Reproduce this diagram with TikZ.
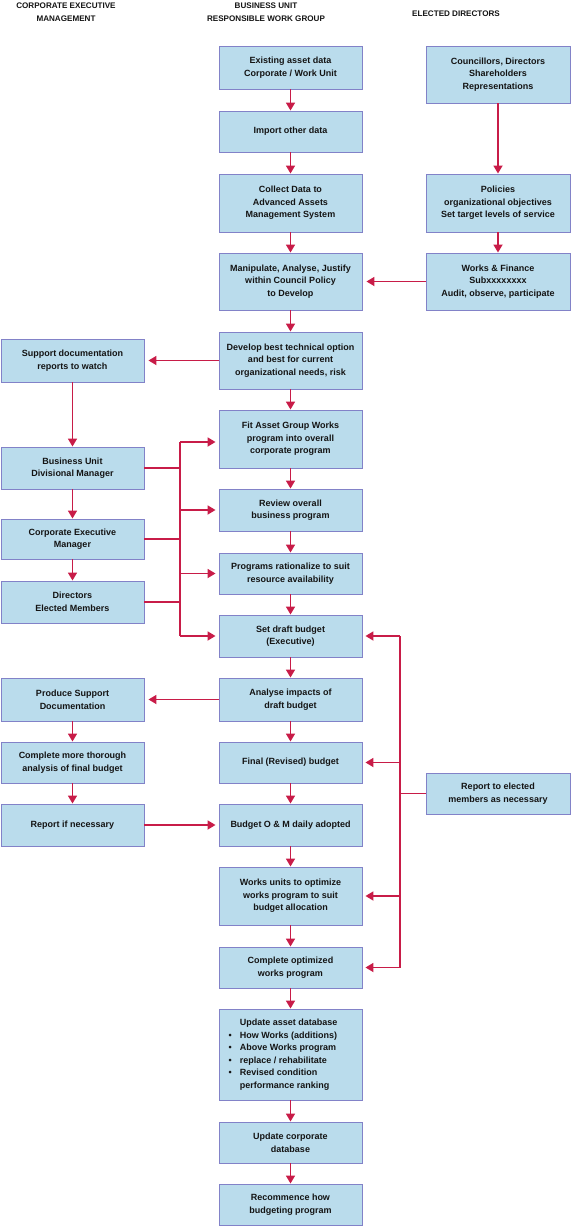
\documentclass[tikz,border=0pt]{standalone}
\usepackage{fontspec}
\setmainfont{Liberation Sans}
\usetikzlibrary{arrows.meta}
\definecolor{boxfill}{RGB}{186,220,236}
\definecolor{bordercol}{RGB}{130,130,200}
\definecolor{arrcol}{RGB}{200,28,72}
\definecolor{txtcol}{RGB}{20,20,20}
\tikzset{
  box/.style={draw=bordercol, line width=0.9pt, fill=boxfill, minimum width=143pt,
    align=center, inner sep=2pt, text=txtcol, font=\fontsize{9}{12.6}\selectfont\bfseries},
  mh/.style={minimum height=#1pt},
  hdr/.style={align=center, text=txtcol, inner sep=0pt, font=\fontsize{8.1}{13}\selectfont\bfseries},
  arr/.style={draw=arrcol, line width=1.7pt, -{Triangle[length=8pt,width=9pt]}},
  ln/.style={draw=arrcol, line width=1.7pt},
}
\begin{document}
\begin{tikzpicture}[x=1pt,y=-1pt]
\useasboundingbox (0,0) rectangle (571,1227);
% headers
\node[hdr] (h1) at (66,12.5) {CORPORATE EXECUTIVE\\MANAGEMENT};
\node[hdr] (h2) at (266,12.5) {BUSINESS UNIT\\RESPONSIBLE WORK GROUP};
\node[hdr] (h3) at (456,14) {ELECTED DIRECTORS};
% centre column
\node[box,mh=43] (c1) at (290.5,67.5) {Existing asset data\\Corporate / Work Unit};
\node[box,mh=41] (c2) at (290.5,131.5) {Import other data};
\node[box,mh=58] (c3) at (290.5,203) {Collect Data to\\Advanced Assets\\Management System};
\node[box,mh=57] (c4) at (290.5,281.5) {Manipulate, Analyse, Justify\\within Council Policy\\to Develop};
\node[box,mh=57] (c5) at (290.5,360.5) {Develop best technical option\\and best for current\\organizational needs, risk};
\node[box,mh=58] (c6) at (290.5,439) {Fit Asset Group Works\\program into overall\\corporate program};
\node[box,mh=42] (c7) at (290.5,510) {Review overall\\business program};
\node[box,mh=41] (c8) at (290.5,573.5) {Programs rationalize to suit\\resource availability};
\node[box,mh=42] (c9) at (290.5,636) {Set draft budget\\(Executive)};
\node[box,mh=43] (c10) at (290.5,699.5) {Analyse impacts of\\draft budget};
\node[box,mh=41] (c11) at (290.5,762.5) {Final (Revised) budget};
\node[box,mh=42] (c12) at (290.5,825) {Budget O \& M daily adopted};
\node[box,mh=58] (c13) at (290.5,896) {Works units to optimize\\works program to suit\\budget allocation};
\node[box,mh=41] (c14) at (290.5,967.5) {Complete optimized\\works program};
\node[box,mh=91] (c15) at (290.5,1054.5) {\begin{tabular}{@{}c@{\hspace{8pt}}l@{\hspace{15pt}}}
 & Update asset database\\
 \textbullet & How Works (additions)\\
 \textbullet & Above Works program\\
 \textbullet & replace / rehabilitate\\
 \textbullet & Revised condition\\
 & performance ranking
\end{tabular}};
\node[box,mh=41] (c16) at (290.5,1142.5) {Update corporate\\database};
\node[box,mh=41] (c17) at (290.5,1204.5) {Recommence how\\budgeting program};
% right column
\node[box,mh=57,minimum width=144pt] (r1) at (498,74.5) {Councillors, Directors\\Shareholders\\Representations};
\node[box,mh=58,minimum width=144pt] (r2) at (498,203) {Policies\\organizational objectives\\Set target levels of service};
\node[box,mh=57,minimum width=144pt] (r3) at (498,281.5) {Works \& Finance\\Subxxxxxxxx\\Audit, observe, participate};
\node[box,mh=41,minimum width=144pt] (r4) at (498,793.5) {Report to elected\\members as necessary};
% left column
\node[box,mh=43] (l1) at (72.5,360.5) {Support documentation\\reports to watch};
\node[box,mh=42] (l2) at (72.5,468) {Business Unit\\Divisional Manager};
\node[box,mh=40] (l3) at (72.5,539) {Corporate Executive\\Manager};
\node[box,mh=42] (l4) at (72.5,602) {Directors\\Elected Members};
\node[box,mh=43] (l5) at (72.5,699.5) {Produce Support\\Documentation};
\node[box,mh=41] (l6) at (72.5,762.5) {Complete more thorough\\analysis of final budget};
\node[box,mh=42] (l7) at (72.5,825) {Report if necessary};
% centre flow
\foreach \a/\b in {c1/c2,c2/c3,c3/c4,c4/c5,c5/c6,c6/c7,c7/c8,c8/c9,c9/c10,c10/c11,c11/c12,c12/c13,c13/c14,c14/c15,c15/c16,c16/c17}
  \draw[arr] (\a.south) -- (\b.north);
% right flow
\draw[arr] (r1.south) -- (r2.north);
\draw[arr] (r2.south) -- (r3.north);
\draw[arr,shorten >=4pt] (r3.west) -- (c4.east);
% left flow
\draw[arr,shorten >=4pt] (c5.west) -- (l1.east);
\draw[arr] (l1.south) -- (l2.north);
\draw[arr] (l2.south) -- (l3.north);
\draw[arr] (l3.south) -- (l4.north);
\draw[arr,shorten >=4pt] (c10.west) -- (l5.east);
\draw[arr] (l5.south) -- (l6.north);
\draw[arr] (l6.south) -- (l7.north);
\draw[arr,shorten >=3pt] (l7.east) -- (c12.west);
% left bus
\coordinate (lbus) at (180,0);
\draw[ln] (l2.east) -- (l2.east -| lbus);
\draw[ln] (l3.east) -- (l3.east -| lbus);
\draw[ln] (l4.east) -- (l4.east -| lbus);
\draw[ln] ([yshift=-3pt]c6.west -| lbus) -- (c9.west -| lbus);
\draw[arr,shorten >=3pt] ([yshift=-3pt]c6.west -| lbus) -- ([yshift=-3pt]c6.west);
\draw[arr,shorten >=3pt] (c7.west -| lbus) -- (c7.west);
\draw[arr,shorten >=3pt] (c8.west -| lbus) -- (c8.west);
\draw[arr,shorten >=3pt] (c9.west -| lbus) -- (c9.west);
% right bus
\coordinate (rbus) at (400,0);
\draw[ln] (r4.west) -- (r4.west -| rbus);
\draw[ln] (c9.east -| rbus) -- (c14.east -| rbus);
\draw[arr,shorten >=3pt] (c9.east -| rbus) -- (c9.east);
\draw[arr,shorten >=3pt] (c11.east -| rbus) -- (c11.east);
\draw[arr,shorten >=3pt] (c13.east -| rbus) -- (c13.east);
\draw[arr,shorten >=3pt] (c14.east -| rbus) -- (c14.east);
\end{tikzpicture}
\end{document}
